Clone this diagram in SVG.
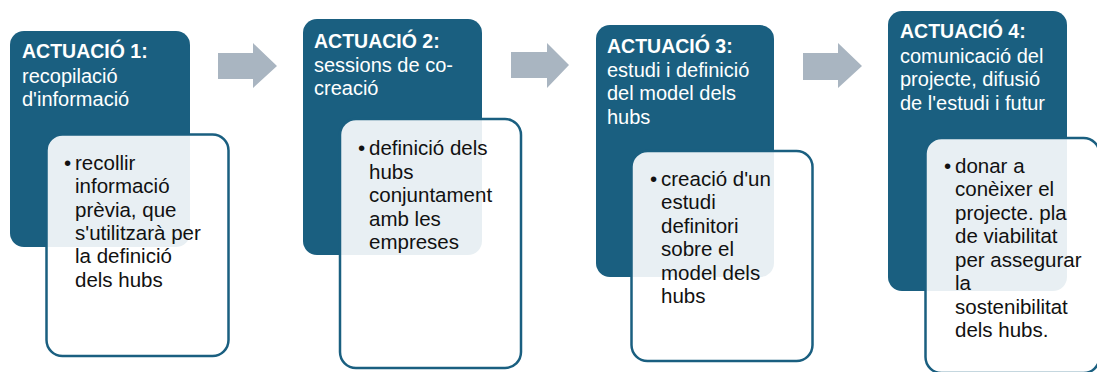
<svg xmlns="http://www.w3.org/2000/svg" width="1097" height="372" viewBox="0 0 1097 372">
<style>
.dark{fill:#1A5F80}
.card{fill:#FFFFFF;fill-opacity:0.9;stroke:#1A5F80;stroke-width:2.5}
.arrow{fill:#A9B5C1}
.hd{font-family:"Liberation Sans",Arial,sans-serif;font-size:20px;fill:#FFFFFF}
.hd .b{font-weight:bold;font-size:19.5px}
.bt{font-family:"Liberation Sans",Arial,sans-serif;font-size:20.5px;fill:#111111}
</style>
<rect width="1097" height="372" fill="#FFFFFF"/>
<g id="connectors">
<polygon class="arrow" points="218,53 253,53 253,43 277,66 253,88 253,79 218,79"/>
<polygon class="arrow" points="511,52 547,52 547,43 569,65 547,88 547,78 511,78"/>
<polygon class="arrow" points="803,53 838,53 838,43 862,66 838,88 838,80 803,80"/>
</g>
<g id="node1">
<rect class="dark" x="10" y="31" width="180" height="216" rx="14"/>
<text class="hd" x="22"><tspan class="b" x="22" y="58">ACTUACIÓ 1:</tspan><tspan x="22" y="82.5">recopilació</tspan><tspan x="22" y="106">d'informació</tspan></text>
<rect class="card" x="46.5" y="134.5" width="182" height="221.5" rx="16"/>
<text class="bt"><tspan x="64" y="170">•</tspan><tspan x="75" y="170">recollir</tspan><tspan x="75" y="193.3">informació</tspan><tspan x="75" y="216.6">prèvia, que</tspan><tspan x="75" y="239.9">s'utilitzarà per</tspan><tspan x="75" y="263.2">la definició</tspan><tspan x="75" y="286.5">dels hubs</tspan></text>
</g>
<g id="node2">
<rect class="dark" x="303" y="19" width="179" height="236" rx="14"/>
<text class="hd"><tspan class="b" x="314" y="47.5">ACTUACIÓ 2:</tspan><tspan x="314" y="71.5">sessions de co-</tspan><tspan x="314" y="95">creació</tspan></text>
<rect class="card" x="340" y="119" width="181" height="249" rx="16"/>
<text class="bt"><tspan x="358" y="155">•</tspan><tspan x="369" y="155">definició dels</tspan><tspan x="369" y="178.5">hubs</tspan><tspan x="369" y="202">conjuntament</tspan><tspan x="369" y="225.5">amb les</tspan><tspan x="369" y="249">empreses</tspan></text>
</g>
<g id="node3">
<rect class="dark" x="596" y="25" width="178" height="252" rx="14"/>
<text class="hd"><tspan class="b" x="607" y="53">ACTUACIÓ 3:</tspan><tspan x="607" y="76.5">estudi i definició</tspan><tspan x="607" y="100">del model dels</tspan><tspan x="607" y="123.5">hubs</tspan></text>
<rect class="card" x="631.5" y="151" width="181" height="210" rx="16"/>
<text class="bt"><tspan x="650" y="185.5">•</tspan><tspan x="661" y="185.5">creació d'un</tspan><tspan x="661" y="209">estudi</tspan><tspan x="661" y="232.5">definitori</tspan><tspan x="661" y="256">sobre el</tspan><tspan x="661" y="279.5">model dels</tspan><tspan x="661" y="303">hubs</tspan></text>
</g>
<g id="node4">
<rect class="dark" x="888" y="11" width="179" height="280" rx="14"/>
<text class="hd"><tspan class="b" x="900" y="38">ACTUACIÓ 4:</tspan><tspan x="900" y="62.5">comunicació del</tspan><tspan x="900" y="86">projecte, difusió</tspan><tspan x="900" y="110">de l'estudi i futur</tspan></text>
<rect class="card" x="925.5" y="138" width="174" height="235" rx="16"/>
<text class="bt"><tspan x="944" y="172.5">•</tspan><tspan x="955" y="172.5">donar a</tspan><tspan x="955" y="196">conèixer el</tspan><tspan x="955" y="219.5">projecte. pla</tspan><tspan x="955" y="243">de viabilitat</tspan><tspan x="955" y="266.5">per assegurar</tspan><tspan x="955" y="290">la</tspan><tspan x="955" y="313.5">sostenibilitat</tspan><tspan x="955" y="337">dels hubs.</tspan></text>
</g>
</svg>
